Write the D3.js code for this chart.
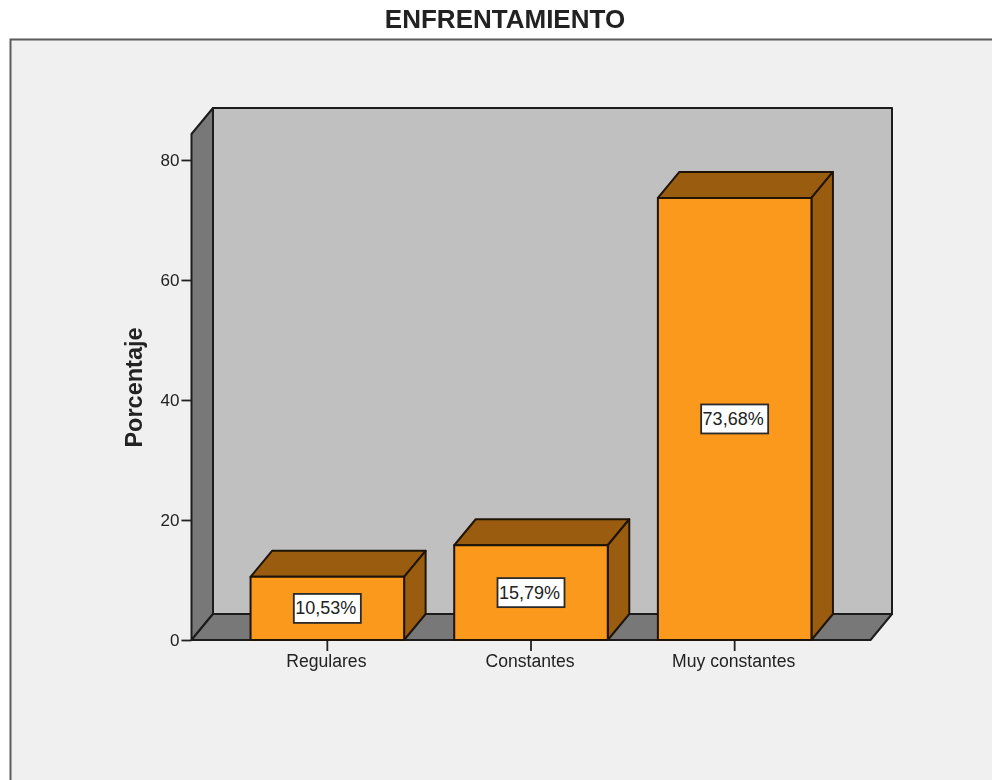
<!DOCTYPE html>
<html>
<head>
<meta charset="utf-8">
<script src="https://cdn.jsdelivr.net/npm/d3@7"></script>
<style>
	html, body { margin:0; padding:0; background:#fff; }
	svg { display:block; filter:blur(0.4px); } /* reference is a resampled screenshot */
	text { font-family:"Liberation Sans", Arial, sans-serif; fill:#222; }
	.axis text { font-size:17.6px; }
	.axis-y text { font-size:17px; }
	.axis path { display:none; }
	.axis line { stroke:#222; stroke-width:1.8; }
	.edge { stroke:#1c1c1c; stroke-width:2; stroke-linejoin:round; }
	.bar-edge { stroke:#1e1408; stroke-width:2; stroke-linejoin:round; }
</style>
</head>
<body>
<div id="chart"></div>
<script>
const title = 'ENFRENTAMIENTO';
const yTitle = 'Porcentaje';
const categories = ['Regulares','Constantes','Muy constantes'];
const values = [10.53,15.79,73.68];
const labels = ['10,53%','15,79%','73,68%'];
const yTicks = [0,20,40,60,80];

const width = 992;
const height = 780;
const margin = {t:134,r:121.5,b:140,l:191.5};
const w = width - margin.l - margin.r;
const h = height - margin.t - margin.b;
const depth = {x:21.5,y:-26}; // 3D offset going to the back of the box

const svg = d3.select('#chart').append('svg')
	.attr('width',width)
	.attr('height',height);

// outer frame, runs off the bottom and right of the picture
svg.append('rect')
	.attr('x',10.5)
	.attr('y',39.5)
	.attr('width',width + 20)
	.attr('height',height)
	.style('fill','#f0f0f0')
	.style('stroke','#5c5c5c')
	.style('stroke-width',2);

svg.append('text')
	.attr('x',505)
	.attr('y',28)
	.attr('text-anchor','middle')
	.style('font-size','26px')
	.style('font-weight','bold')
	.text(title);

const plot = svg.append('g')
	.attr('transform',`translate(${margin.l},${margin.t})`);

const scaleX = d3.scaleBand()
	.domain(categories)
	.range([0,w])
	.paddingInner(0.246)
	.paddingOuter(0.29);
const scaleY = d3.scaleLinear()
	.domain([0,84.33])
	.range([h,0]);

const line = d3.line();

//Box: back wall, left wall, floor
plot.append('path')
	.attr('class','edge')
	.attr('d',line([[depth.x,depth.y],[w + depth.x,depth.y],[w + depth.x,h + depth.y],[depth.x,h + depth.y]]) + 'Z')
	.style('fill','#c0c0c0');
plot.append('path')
	.attr('class','edge')
	.attr('d',line([[0,0],[depth.x,depth.y],[depth.x,h + depth.y],[0,h]]) + 'Z')
	.style('fill','#787878');
plot.append('path')
	.attr('class','edge')
	.attr('d',line([[0,h],[depth.x,h + depth.y],[w + depth.x,h + depth.y],[w,h]]) + 'Z')
	.style('fill','#787878');

//Axes
const axisY = d3.axisLeft()
	.scale(scaleY)
	.tickValues(yTicks)
	.tickSize(10)
	.tickPadding(2);
const axisX = d3.axisBottom()
	.scale(scaleX)
	.tickSize(11)
	.tickPadding(4);

plot.append('g').attr('class','axis axis-y').call(axisY);
plot.append('g').attr('class','axis axis-x')
	.attr('transform',`translate(0,${h})`)
	.call(axisX)
	.selectAll('text')
	.attr('dx',-1);

svg.append('text')
	.attr('transform','translate(142,387.5) rotate(-90)')
	.attr('text-anchor','middle')
	.style('font-size','23.5px')
	.style('font-weight','bold')
	.text(yTitle);

//Bars
const bars = plot.selectAll('.bar')
	.data(categories.map((c,i) => ({category:c,value:values[i],label:labels[i]})))
	.enter()
	.append('g')
	.attr('class','bar')
	.attr('transform',d => `translate(${scaleX(d.category)},0)`);

const bw = scaleX.bandwidth();

bars.append('path') // top
	.attr('class','bar-edge')
	.attr('d',d => {
		const y = scaleY(d.value);
		return line([[0,y],[depth.x,y + depth.y],[bw + depth.x,y + depth.y],[bw,y]]) + 'Z';
	})
	.style('fill','#9a5d10');
bars.append('path') // side
	.attr('class','bar-edge')
	.attr('d',d => {
		const y = scaleY(d.value);
		return line([[bw,y],[bw + depth.x,y + depth.y],[bw + depth.x,h + depth.y],[bw,h]]) + 'Z';
	})
	.style('fill','#9a5d10');
bars.append('rect') // front
	.attr('class','bar-edge')
	.attr('y',d => scaleY(d.value))
	.attr('width',bw)
	.attr('height',d => h - scaleY(d.value))
	.style('fill','#fb991d');

//Value labels
bars.append('rect')
	.attr('x',bw / 2 - 33.5)
	.attr('y',d => (scaleY(d.value) + h) / 2 - 14.5)
	.attr('width',67)
	.attr('height',29)
	.style('fill','#fff')
	.style('stroke','#2a2a2a')
	.style('stroke-width',1.8);
bars.append('text')
	.attr('x',bw / 2 - 1.5)
	.attr('y',d => (scaleY(d.value) + h) / 2 + 6)
	.attr('text-anchor','middle')
	.style('font-size','18px')
	.text(d => d.label);
</script>
</body>
</html>
